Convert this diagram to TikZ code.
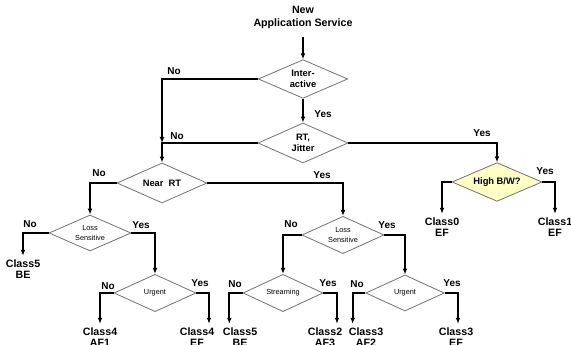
\documentclass[tikz,border=0pt]{standalone}
\usepackage{fontspec}
\setmainfont{Liberation Sans}
\usetikzlibrary{shapes.geometric,arrows.meta}
\definecolor{paleyellow}{RGB}{255,255,196}
\tikzset{
  decision/.style={diamond, draw=black!55, line width=0.6pt, fill=white, inner sep=0pt, aspect=2.2,
    align=center, font=\fontsize{7}{8.3}\selectfont\bfseries},
  smalldecision/.style={decision, font=\fontsize{5.5}{8}\selectfont},
  flow/.style={line width=1.3pt, -{Latex[length=4.5pt,width=3.6pt]}},
  answer/.style={font=\fontsize{7.5}{8}\selectfont\bfseries, inner sep=0pt},
  classbox/.style={align=center, font=\fontsize{8}{8.3}\selectfont\bfseries, inner sep=3pt},
}
\begin{document}
\begin{tikzpicture}[x=0.75pt,y=-0.75pt]
\useasboundingbox (0,0) rectangle (571,345);

% decisions
\node[align=center, font=\fontsize{8}{9.8}\selectfont\bfseries, inner sep=1pt] (title) at (303,17.5) {New\\Application Service};
\node[decision, minimum width=67pt, minimum height=29pt] (inter) at (303,79) {Inter-\\active};
\node[decision, minimum width=67.5pt, minimum height=30pt] (rt) at (303,143) {RT,\\Jitter};
\node[decision, minimum width=67.5pt, minimum height=30pt] (nearrt) at (162,183) {Near\ \ RT};
\node[decision, fill=paleyellow, minimum width=67.5pt, minimum height=29pt] (hbw) at (497,182) {High B/W?};
\node[smalldecision, minimum width=61.5pt, minimum height=27pt] (ls1) at (90,233) {Loss\\Sensitive};
\node[smalldecision, minimum width=61.5pt, minimum height=28pt] (ls2) at (343,235) {Loss\\Sensitive};
\node[smalldecision, minimum width=61.5pt, minimum height=28pt] (urg1) at (155,293) {Urgent};
\node[smalldecision, minimum width=60pt, minimum height=28pt] (strm) at (283,293) {Streaming};
\node[smalldecision, minimum width=59pt, minimum height=27pt] (urg2) at (405,293) {Urgent};

% classes
\node[classbox] (c5be) at (23,269.5) {Class5\\BE};
\node[classbox] (c4af) at (100,337.5) {Class4\\AF1};
\node[classbox] (c4ef) at (197,337.5) {Class4\\EF};
\node[classbox] (c5beb) at (240,337.5) {Class5\\BE};
\node[classbox] (c2af) at (325,337.5) {Class2\\AF3};
\node[classbox] (c3af) at (366,337.5) {Class3\\AF2};
\node[classbox] (c3ef) at (456,337.5) {Class3\\EF};
\node[classbox] (c0ef) at (442,227.5) {Class0\\EF};
\node[classbox] (c1ef) at (555,227.5) {Class1\\EF};

% connectors
\coordinate (join) at (nearrt.north |- rt.west);
\draw[flow, line width=2pt, shorten <=5pt] (title.south) -- (inter.north);
\draw[flow, line width=1.8pt] (inter.south) -- (rt.north);
\draw[flow] (inter.west) -| (join);
\draw[flow] (rt.west) -- (join) -- (nearrt.north);
\draw[flow] (rt.east) -| (hbw.north);
\draw[flow] (nearrt.west) -| (ls1.north);
\draw[flow] (nearrt.east) -| (ls2.north);
\draw[flow] (hbw.west) -| (c0ef.north);
\draw[flow] (hbw.east) -| (c1ef.north);
\draw[flow] (ls1.west) -| (c5be.north);
\draw[flow] (ls1.east) -| (urg1.north);
\draw[flow] (ls2.west) -| (strm.north);
\draw[flow] (ls2.east) -| (urg2.north);
\draw[flow] (urg1.west) -| (c4af.north);
\draw[flow] (urg1.east) -| ([xshift=9pt]c4ef.north);
\draw[flow] (strm.west) -| ([xshift=-8pt]c5beb.north);
\draw[flow] (strm.east) -| ([xshift=9pt]c2af.north);
\draw[flow] (urg2.west) -| ([xshift=-10pt]c3af.north);
\draw[flow] (urg2.east) -| ([xshift=1.5pt]c3ef.north);

% answers
\node[answer] (a1) at (174,71) {No};
\node[answer] (a2) at (323,114) {Yes};
\node[answer] (a3) at (177,136) {No};
\node[answer] (a4) at (482,133) {Yes};
\node[answer] (a5) at (99,173) {No};
\node[answer] (a6) at (322,175) {Yes};
\node[answer] (a7) at (545,171) {Yes};
\node[answer] (a8) at (30,224) {No};
\node[answer] (a9) at (141,225) {Yes};
\node[answer] (a10) at (291,224) {No};
\node[answer] (a11) at (387,225) {Yes};
\node[answer] (a12) at (108,286) {No};
\node[answer] (a13) at (200,283) {Yes};
\node[answer] (a14) at (235,284) {No};
\node[answer] (a15) at (328,283) {Yes};
\node[answer] (a16) at (357,284) {No};
\node[answer] (a17) at (452,283) {Yes};
\end{tikzpicture}
\end{document}
